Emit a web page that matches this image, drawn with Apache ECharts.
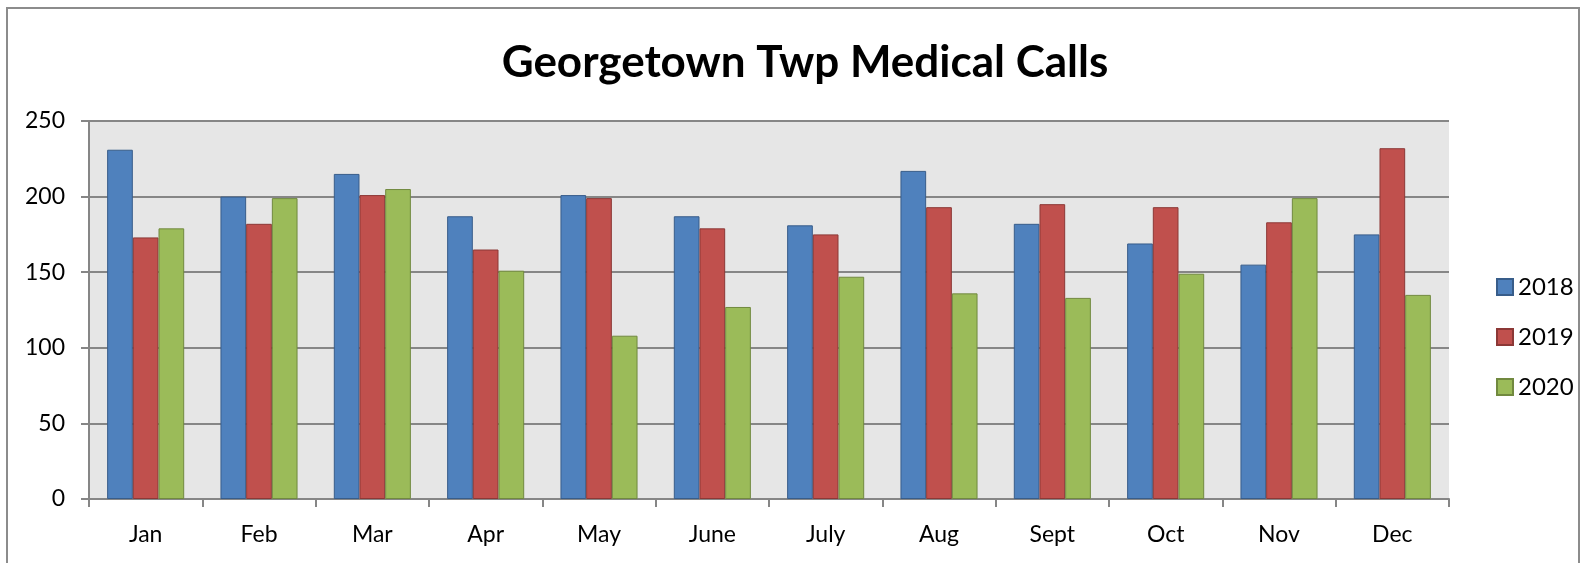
<!DOCTYPE html>
<html>
<head>
<meta charset="utf-8">
<title>Georgetown Twp Medical Calls</title>
<script src="https://cdn.jsdelivr.net/npm/echarts@6/dist/echarts.min.js"></script>
<style>
  html, body { margin: 0; padding: 0; background: #fff; }
  #chart { width: 1581px; height: 563px; }
</style>
</head>
<body>
<div id="chart"></div>
<script>
// 月份
const months = ["Jan", "Feb", "Mar", "Apr", "May", "June", "July", "Aug", "Sept", "Oct", "Nov", "Dec"]
// 各年数据
const calls2018 = [231, 200, 215, 187, 201, 187, 181, 217, 182, 169, 155, 175]
const calls2019 = [173, 182, 201, 165, 199, 179, 175, 193, 195, 193, 183, 232]
const calls2020 = [179, 199, 205, 151, 108, 127, 147, 136, 133, 149, 199, 135]
const yearNames = ["2018", "2019", "2020"]

const font = "Lato, 'Open Sans', sans-serif"

const myChart = echarts.init(document.getElementById("chart"))

function barSeries(name, data, fill, border) {
  return {
    name: name,
    type: "bar",
    data: data,
    barGap: "0%",
    barCategoryGap: "32%",
    itemStyle: {
      color: fill,
      borderColor: border,
      borderWidth: 1,
    },
  }
}

const option = {
  animation: false,
  backgroundColor: "#fff",
  textStyle: { fontFamily: font },
  title: {
    text: "Georgetown Twp Medical Calls",
    left: 800,
    top: 36,
    textAlign: "center",
    textStyle: {
      fontFamily: font,
      fontWeight: "bold",
      fontSize: 44,
      color: "#000",
    },
  },
  // 外边框
  graphic: [
    {
      type: "rect",
      shape: { x: 7, y: 8, width: 1572, height: 600 },
      style: { fill: "none", stroke: "#8c8c8c", lineWidth: 2 },
      silent: true,
    },
  ],
  legend: {
    orient: "vertical",
    left: 1491,
    top: 270,
    itemWidth: 16,
    itemHeight: 16,
    itemGap: 26,
    icon: "rect",
    data: yearNames,
    textStyle: {
      fontFamily: font,
      fontSize: 24,
      lineHeight: 22,
      color: "#000",
    },
  },
  grid: {
    left: 89,
    right: 132,
    top: 121,
    bottom: 64,
    show: true,
    backgroundColor: "#e6e6e6",
    borderWidth: 0,
  },
  xAxis: {
    type: "category",
    data: months,
    axisLine: { lineStyle: { color: "#868686", width: 2 } },
    axisTick: { show: true, length: 8, lineStyle: { color: "#868686", width: 2 } },
    axisLabel: { color: "#000", fontSize: 23, margin: 24, fontFamily: font },
  },
  yAxis: {
    type: "value",
    min: 0,
    max: 250,
    interval: 50,
    axisLine: { show: true, lineStyle: { color: "#868686", width: 2 } },
    axisTick: { show: true, length: 8, lineStyle: { color: "#868686", width: 2 } },
    axisLabel: { color: "#000", fontSize: 23, margin: 24, fontFamily: font },
    splitLine: { lineStyle: { color: "#868686", width: 2 } },
  },
  series: [
    barSeries("2018", calls2018, "#4f81bd", "#385d8a"),
    barSeries("2019", calls2019, "#c0504d", "#8c3836"),
    barSeries("2020", calls2020, "#9bbb59", "#71893f"),
  ],
}

myChart.setOption(option)
</script>
</body>
</html>
